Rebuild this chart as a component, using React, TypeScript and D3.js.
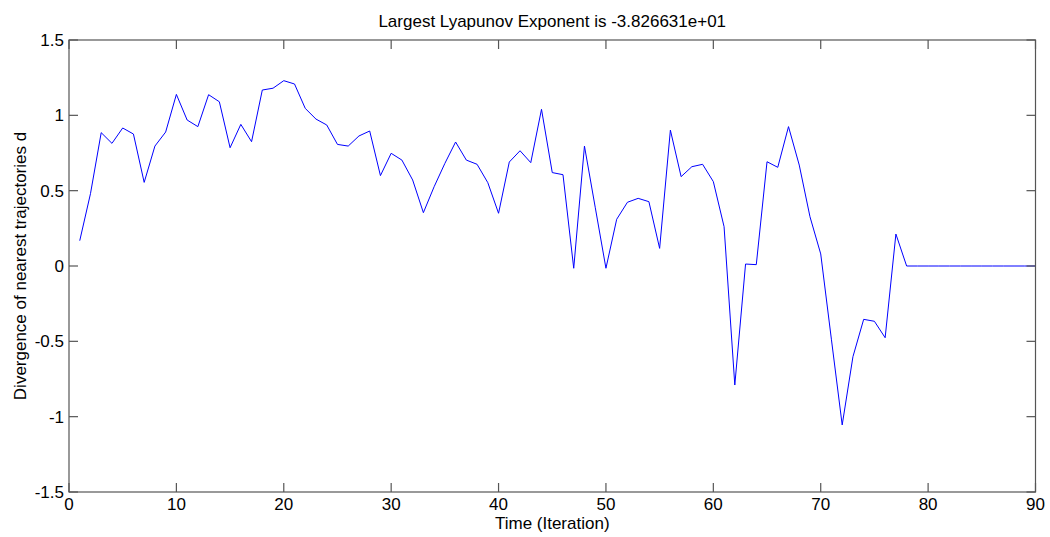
import React from "react";
import * as d3 from "d3";

const titleText = "Largest Lyapunov Exponent is -3.826631e+01";
const xLabel = "Time (Iteration)";
const yLabel = "Divergence of nearest trajectories d";
const xTicks = [0, 10, 20, 30, 40, 50, 60, 70, 80, 90];
const yTicks = [-1.5, -1, -0.5, 0, 0.5, 1, 1.5];
const yTickLabels = ["-1.5", "-1", "-0.5", "0", "0.5", "1", "1.5"];

const divergence = [
  0.168, 0.48, 0.885, 0.814, 0.916, 0.876, 0.555, 0.796, 0.889, 1.139,
  0.969, 0.925, 1.137, 1.09, 0.785, 0.94, 0.825, 1.168, 1.18, 1.23,
  1.208, 1.046, 0.975, 0.936, 0.807, 0.796, 0.863, 0.896, 0.6, 0.748,
  0.703, 0.571, 0.354, 0.526, 0.681, 0.823, 0.703, 0.675, 0.553, 0.35,
  0.69, 0.765, 0.686, 1.04, 0.62, 0.606, -0.015, 0.796, 0.39, -0.015,
  0.31, 0.423, 0.449, 0.427, 0.117, 0.902, 0.593, 0.659, 0.675, 0.56,
  0.261, -0.79, 0.013, 0.009, 0.692, 0.655, 0.925, 0.67, 0.327, 0.08,
  -0.49, -1.055, -0.602, -0.354, -0.367, -0.476, 0.212, 0, 0, 0,
  0, 0, 0, 0, 0, 0, 0, 0, 0, 0,
];

export default function App() {
  const W = 1050, H = 537;
  const left = 69, right = 1035.5, top = 40, bottom = 492;
  const x = d3.scaleLinear().domain([0, 90]).range([left, right]);
  const y = d3.scaleLinear().domain([-1.5, 1.5]).range([bottom, top]);
  const line = d3
    .line<number>()
    .x((_, i) => x(i + 1))
    .y((d) => y(d));
  const font = "Arial, 'Liberation Sans', Helvetica, sans-serif";
  const axisColor = "#555";
  const tickLen = 9;
  const fs = 17;
  return (
    <svg
      width={W}
      height={H}
      style={{ position: "absolute", left: 0, top: 0, background: "#fff" }}
      fontFamily={font}
    >
      <rect x={0} y={0} width={W} height={H} fill="#fff" />
      <path d={line(divergence) || ""} fill="none" stroke="#0000ff" strokeWidth={1} />
      <rect
        x={left}
        y={top}
        width={right - left}
        height={bottom - top}
        fill="none"
        stroke={axisColor}
        strokeWidth={1.2}
      />
      {xTicks.map((t) => (
        <g key={"x" + t}>
          <line x1={x(t)} x2={x(t)} y1={bottom} y2={bottom - tickLen} stroke={axisColor} strokeWidth={1.2} />
          <line x1={x(t)} x2={x(t)} y1={top} y2={top + tickLen} stroke={axisColor} strokeWidth={1.2} />
          <text x={x(t)} y={bottom + 18} textAnchor="middle" fontSize={fs} fill="#000">
            {t}
          </text>
        </g>
      ))}
      {yTicks.map((t, i) => (
        <g key={"y" + t}>
          <line x1={left} x2={left + tickLen} y1={y(t)} y2={y(t)} stroke={axisColor} strokeWidth={1.2} />
          <line x1={right} x2={right - tickLen} y1={y(t)} y2={y(t)} stroke={axisColor} strokeWidth={1.2} />
          <text x={left - 5} y={y(t) + 6} textAnchor="end" fontSize={fs} fill="#000">
            {yTickLabels[i]}
          </text>
        </g>
      ))}
      <text x={(left + right) / 2} y={27} textAnchor="middle" fontSize={fs} fill="#000">
        {titleText}
      </text>
      <text x={(left + right) / 2} y={529} textAnchor="middle" fontSize={fs} fill="#000">
        {xLabel}
      </text>
      <text
        transform={`translate(26,${(top + bottom) / 2}) rotate(-90)`}
        textAnchor="middle"
        fontSize={fs}
        fill="#000"
      >
        {yLabel}
      </text>
    </svg>
  );
}
